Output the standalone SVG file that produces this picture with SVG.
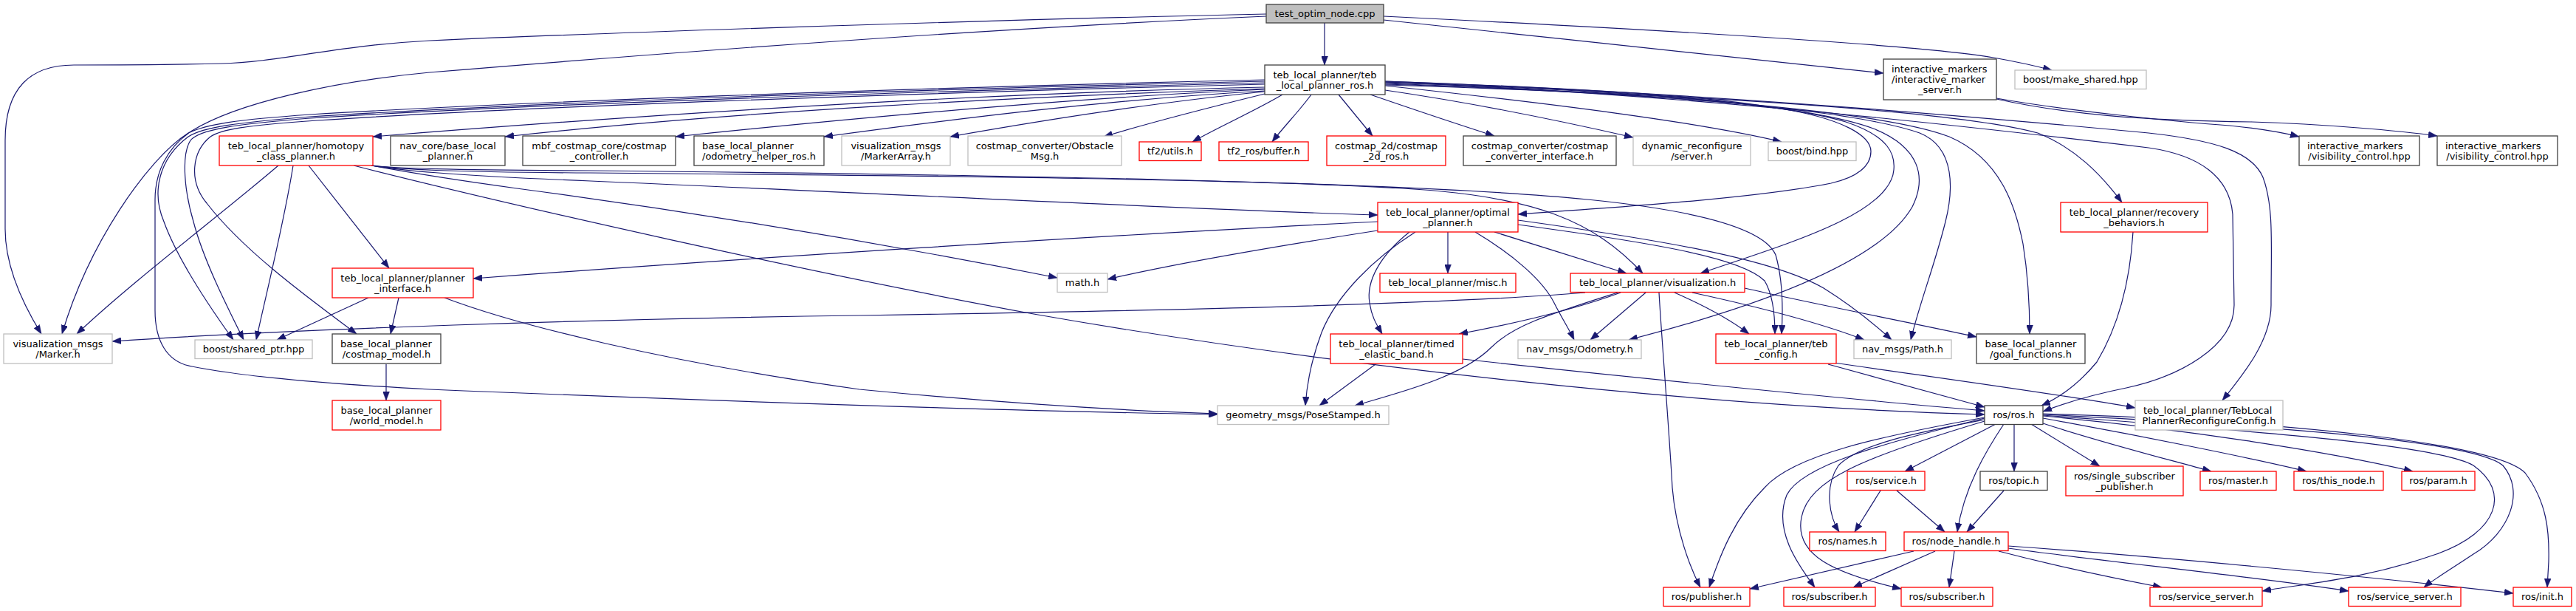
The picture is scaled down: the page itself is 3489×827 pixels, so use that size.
<svg xmlns="http://www.w3.org/2000/svg" width="3489" height="827" viewBox="0 0 3489 827">
<style>
.e{fill:none;stroke:#191970;stroke-width:1.2;marker-end:url(#ah)}
rect{fill:#fff;stroke-width:1.3}
.nb rect{stroke:#404040}
.nr rect{stroke:#ff0000}
.ng rect{stroke:#bfbfbf}
.root rect{fill:#bfbfbf;stroke:#404040}
text{font-family:"DejaVu Sans","Liberation Sans",sans-serif;font-size:13px;fill:#000;text-anchor:middle}
text.l{text-anchor:start}
</style>
<defs>
<marker id="ah" viewBox="0 0 12 9" refX="12" refY="4.5" markerWidth="12" markerHeight="9" markerUnits="userSpaceOnUse" orient="auto">
<path d="M0,0 L12,4.5 L0,9 z" fill="#191970" stroke="#191970" stroke-width="0.5"/>
</marker>
</defs>
<rect x="0" y="0" width="3489" height="827" style="fill:#fff;stroke:none"/>
<g id="edges">
<path class="e" d="M1794,31 L1794,88"/>
<path class="e" d="M1715,19 C1300,28 800,45 582,55 C450,62 380,84 300,86 C220,88 150,88 100,88 C40,88 7,120 7,190 L7,310 C7,360 30,410 56,452"/>
<path class="e" d="M1715,22 C1300,40 800,80 582,98 C450,110 320,140 260,177 C225,200 210,235 210,270 L210,420 C210,460 225,490 260,496 C330,510 450,520 582,527 C900,540 1300,555 1649,561"/>
<path class="e" d="M1874,27 C2100,50 2400,85 2551,99"/>
<path class="e" d="M1874,22 C2200,38 2600,60 2700,78 C2740,85 2760,90 2779,95"/>
<path class="e" d="M1713,108 C1200,120 700,138 420,155 C320,162 280,168 255,180 C200,215 120,330 84,452"/>
<path class="e" d="M1713,110 C1200,122 700,140 420,158 C320,166 275,172 255,185 C215,215 205,260 222,300 C240,350 280,410 316,460"/>
<path class="e" d="M1713,112 C1200,125 700,142 420,160 C320,168 270,175 258,190 C245,210 250,260 262,300 C275,350 305,410 330,460"/>
<path class="e" d="M1713,114 C1200,127 700,145 430,163 C330,170 300,175 285,185 C260,205 255,245 280,275 C330,340 420,405 483,452"/>
<path class="e" d="M1713,118 C1400,125 1000,145 505,185"/>
<path class="e" d="M1713,120 C1400,130 1000,150 684,185"/>
<path class="e" d="M1713,121 C1500,130 1200,155 915,185"/>
<path class="e" d="M1713,123 C1500,135 1300,160 1116,185"/>
<path class="e" d="M1713,124 C1550,140 1400,165 1287,185"/>
<path class="e" d="M1713,127 C1640,145 1560,165 1495,185"/>
<path class="e" d="M1737,128 C1700,150 1650,172 1615,192"/>
<path class="e" d="M1776,128 C1760,150 1740,170 1723,192"/>
<path class="e" d="M1813,128 L1859,184"/>
<path class="e" d="M1856,128 C1920,150 1980,170 2024,184"/>
<path class="e" d="M1876,122 C2000,140 2120,165 2212,186"/>
<path class="e" d="M1876,116 C2100,140 2300,165 2413,192"/>
<path class="e" d="M1876,110 C2100,118 2300,128 2400,145 C2500,160 2534,185 2534,205 C2534,225 2515,240 2480,248 C2380,268 2200,280 2056,290"/>
<path class="e" d="M1876,111 C2150,120 2400,135 2500,165 C2560,185 2567,210 2565,230 C2560,290 2420,330 2303,370"/>
<path class="e" d="M1876,112 C2200,122 2450,140 2540,175 C2600,200 2610,240 2590,280 C2550,350 2400,410 2206,460"/>
<path class="e" d="M1876,113 C2200,124 2500,145 2600,180 C2650,200 2645,260 2635,300 C2620,360 2600,410 2588,460"/>
<path class="e" d="M1876,114 C2250,126 2550,150 2640,185 C2710,215 2730,280 2740,330 C2748,380 2749,420 2749,452"/>
<path class="e" d="M1876,115 C2300,128 2650,150 2760,180 C2810,200 2845,235 2874,274"/>
<path class="e" d="M1876,110 C2300,125 2700,160 2910,180 C3000,190 3050,205 3065,240 C3080,280 3076,330 3076,413 C3076,460 3040,505 3010,542"/>
<path class="e" d="M1876,111 C2300,128 2700,175 2910,200 C2980,210 3020,240 3024,290 L3026,413 C3026,470 2950,510 2880,525 C2830,535 2790,548 2767,557"/>
<path class="e" d="M2704,133 C2800,150 2950,165 3020,170 C3060,174 3090,179 3114,185"/>
<path class="e" d="M2704,134 C2800,155 2900,163 3050,165 C3150,168 3250,177 3301,184"/>
<path class="e" d="M377,224 C300,290 180,380 104,452"/>
<path class="e" d="M397,224 C385,300 360,400 347,460"/>
<path class="e" d="M418,224 L527,363"/>
<path class="e" d="M479,224 C700,280 1100,370 1400,425 C1800,495 2300,550 2688,561"/>
<path class="e" d="M503,224 C540,230 600,237 800,245 C1200,262 1600,283 1866,291"/>
<path class="e" d="M503,224 C540,231 590,240 700,255 C1000,295 1250,340 1432,376"/>
<path class="e" d="M503,224 C540,229 600,233 800,234 C1300,238 1700,243 1900,255 C2080,265 2160,300 2225,370"/>
<path class="e" d="M503,224 C540,228 600,230 800,231 C1300,236 1900,245 2150,270 C2300,285 2390,310 2405,345 C2415,380 2415,420 2413,452"/>
<path class="e" d="M1866,300 C1500,318 1000,350 641,377"/>
<path class="e" d="M1866,312 C1750,330 1600,355 1500,378"/>
<path class="e" d="M1961,314 L1961,370"/>
<path class="e" d="M2024,314 L2203,370"/>
<path class="e" d="M1998,314 C2050,345 2090,380 2105,410 C2115,430 2125,445 2132,460"/>
<path class="e" d="M1909,314 C1870,345 1850,380 1855,410 C1858,430 1865,440 1872,452"/>
<path class="e" d="M1917,314 C1860,350 1810,400 1790,450 C1775,490 1770,520 1768,549"/>
<path class="e" d="M2056,298 C2250,325 2400,350 2470,390 C2510,415 2540,440 2562,460"/>
<path class="e" d="M2056,304 C2250,330 2360,350 2390,380 C2402,400 2404,430 2404,452"/>
<path class="e" d="M2147,396 C1950,412 1600,420 1164,427 C800,432 400,445 152,462"/>
<path class="e" d="M2195,396 C2130,420 2040,440 1976,452"/>
<path class="e" d="M2191,396 C2100,425 2050,440 2020,470 C1980,510 1900,530 1835,549"/>
<path class="e" d="M2229,396 L2154,460"/>
<path class="e" d="M2247,396 C2250,450 2262,600 2265,660 C2270,720 2290,770 2303,795"/>
<path class="e" d="M2268,396 C2300,410 2340,430 2369,452"/>
<path class="e" d="M2292,396 C2380,415 2460,435 2525,460"/>
<path class="e" d="M2363,390 C2450,410 2580,435 2677,456"/>
<path class="e" d="M1863,493 L1787,549"/>
<path class="e" d="M1981,486 C2200,510 2500,540 2688,556"/>
<path class="e" d="M2476,493 L2688,551"/>
<path class="e" d="M2484,491 C2650,515 2800,535 2892,552"/>
<path class="e" d="M2889,314 C2885,380 2870,440 2840,490 C2815,520 2790,538 2765,549"/>
<path class="e" d="M499,403 L375,460"/>
<path class="e" d="M540,403 L529,452"/>
<path class="e" d="M602,403 C700,440 900,490 1164,527 C1350,545 1500,555 1649,560"/>
<path class="e" d="M523,493 L523,542"/>
<path class="e" d="M2703,574 L2580,638"/>
<path class="e" d="M2714,574 C2690,610 2660,660 2651,720"/>
<path class="e" d="M2728,574 L2728,638"/>
<path class="e" d="M2751,574 L2844,631"/>
<path class="e" d="M2767,573 C2850,600 2930,620 2995,638"/>
<path class="e" d="M2767,566 C2900,590 3050,620 3124,638"/>
<path class="e" d="M2767,563 C2950,580 3150,610 3268,638"/>
<path class="e" d="M2767,562 C3000,580 3300,600 3350,630 C3400,665 3385,720 3300,750 C3200,785 3120,790 3064,800"/>
<path class="e" d="M2767,561 C3050,575 3350,595 3390,630 C3420,665 3400,720 3350,750 C3320,770 3295,785 3283,795"/>
<path class="e" d="M2767,560 C3100,570 3380,600 3420,640 C3450,680 3453,720 3452,760 L3450,795"/>
<path class="e" d="M2688,568 C2600,585 2520,600 2490,630 C2470,660 2478,700 2491,720"/>
<path class="e" d="M2688,566 C2550,600 2440,630 2420,670 C2400,720 2440,770 2458,795"/>
<path class="e" d="M2688,570 C2520,620 2450,650 2440,700 C2430,750 2480,775 2575,797"/>
<path class="e" d="M2688,565 C2550,590 2430,615 2390,660 C2350,700 2330,750 2315,795"/>
<path class="e" d="M2592,746 L2370,797"/>
<path class="e" d="M2621,746 L2510,795"/>
<path class="e" d="M2647,746 L2640,795"/>
<path class="e" d="M2707,746 C2780,765 2860,782 2928,795"/>
<path class="e" d="M2720,742 C2850,760 3050,780 3181,800"/>
<path class="e" d="M2720,739 C2950,755 3250,785 3404,803"/>
<path class="e" d="M2547,664 L2512,720"/>
<path class="e" d="M2569,664 L2634,720"/>
<path class="e" d="M2714,664 L2664,720"/>
</g>
<g id="n1" class="root"><rect x="1715" y="6" width="159" height="25"/><text x="1794.5" y="23">test_optim_node.cpp</text></g>
<g id="n2" class="nb"><rect x="1713" y="88" width="163" height="40"/><text x="1794.5" y="105.6">teb_local_planner/teb</text><text x="1794.5" y="119.6">_local_planner_ros.h</text></g>
<g id="n3" class="nr"><rect x="297" y="184" width="208" height="40"/><text x="401" y="201.6">teb_local_planner/homotopy</text><text x="401" y="215.6">_class_planner.h</text></g>
<g id="n4" class="nb"><rect x="529" y="184" width="155" height="40"/><text x="606.5" y="201.6">nav_core/base_local</text><text x="606.5" y="215.6">_planner.h</text></g>
<g id="n5" class="nb"><rect x="708" y="184" width="207" height="40"/><text x="811.5" y="201.6">mbf_costmap_core/costmap</text><text x="811.5" y="215.6">_controller.h</text></g>
<g id="n6" class="nb"><rect x="940" y="184" width="176" height="40"/><text class="l" x="951" y="201.6">base_local_planner</text><text x="1028" y="215.6">/odometry_helper_ros.h</text></g>
<g id="n7" class="ng"><rect x="1140" y="184" width="147" height="40"/><text x="1213.5" y="201.6">visualization_msgs</text><text x="1213.5" y="215.6">/MarkerArray.h</text></g>
<g id="n8" class="ng"><rect x="1311" y="184" width="208" height="40"/><text x="1415" y="201.6">costmap_converter/Obstacle</text><text x="1415" y="215.6">Msg.h</text></g>
<g id="n9" class="nr"><rect x="1543" y="192" width="84" height="25.5"/><text x="1585" y="209.3">tf2/utils.h</text></g>
<g id="n10" class="nr"><rect x="1651" y="192" width="121" height="25.5"/><text x="1711.5" y="209.3">tf2_ros/buffer.h</text></g>
<g id="n11" class="nr"><rect x="1797" y="184" width="161" height="40"/><text x="1877.5" y="201.6">costmap_2d/costmap</text><text x="1877.5" y="215.6">_2d_ros.h</text></g>
<g id="n12" class="nb"><rect x="1982" y="184" width="207" height="40"/><text x="2085.5" y="201.6">costmap_converter/costmap</text><text x="2085.5" y="215.6">_converter_interface.h</text></g>
<g id="n13" class="ng"><rect x="2212" y="184" width="159" height="40"/><text x="2291.5" y="201.6">dynamic_reconfigure</text><text x="2291.5" y="215.6">/server.h</text></g>
<g id="n14" class="ng"><rect x="2395" y="192" width="119" height="25.5"/><text x="2454.5" y="209.3">boost/bind.hpp</text></g>
<g id="n15" class="nb"><rect x="2551" y="80" width="153" height="55"/><text class="l" x="2562" y="98.1">interactive_markers</text><text class="l" x="2562" y="112.1">/interactive_marker</text><text x="2627.5" y="126.1">_server.h</text></g>
<g id="n16" class="ng"><rect x="2729" y="95" width="178" height="25.5"/><text x="2818" y="112.3">boost/make_shared.hpp</text></g>
<g id="n17" class="nb"><rect x="3114" y="184" width="163" height="40"/><text class="l" x="3125" y="201.6">interactive_markers</text><text x="3195.5" y="215.6">/visibility_control.hpp</text></g>
<g id="n18" class="nb"><rect x="3301" y="184" width="163" height="40"/><text class="l" x="3312" y="201.6">interactive_markers</text><text x="3382.5" y="215.6">/visibility_control.hpp</text></g>
<g id="n19" class="nr"><rect x="2791" y="274" width="199" height="40"/><text x="2890.5" y="291.6">teb_local_planner/recovery</text><text x="2890.5" y="305.6">_behaviors.h</text></g>
<g id="n20" class="nr"><rect x="1866" y="274" width="190" height="40"/><text x="1961" y="291.6">teb_local_planner/optimal</text><text x="1961" y="305.6">_planner.h</text></g>
<g id="n21" class="nr"><rect x="450" y="363" width="191" height="40"/><text x="545.5" y="380.6">teb_local_planner/planner</text><text x="545.5" y="394.6">_interface.h</text></g>
<g id="n22" class="ng"><rect x="1432" y="370" width="68" height="25.5"/><text x="1466" y="387.3">math.h</text></g>
<g id="n23" class="nr"><rect x="1869" y="370" width="184" height="25.5"/><text x="1961" y="387.3">teb_local_planner/misc.h</text></g>
<g id="n24" class="nr"><rect x="2127" y="370" width="236" height="25.5"/><text x="2245" y="387.3">teb_local_planner/visualization.h</text></g>
<g id="n25" class="ng"><rect x="5" y="452" width="147" height="40"/><text x="78.5" y="469.6">visualization_msgs</text><text x="78.5" y="483.6">/Marker.h</text></g>
<g id="n26" class="ng"><rect x="264" y="460" width="159" height="25.5"/><text x="343.5" y="477.3">boost/shared_ptr.hpp</text></g>
<g id="n27" class="nb"><rect x="450" y="452" width="147" height="40"/><text class="l" x="461" y="469.6">base_local_planner</text><text x="523.5" y="483.6">/costmap_model.h</text></g>
<g id="n28" class="nr"><rect x="450" y="542" width="147" height="40"/><text x="523.5" y="559.6">base_local_planner</text><text x="523.5" y="573.6">/world_model.h</text></g>
<g id="n29" class="nr"><rect x="1802" y="452" width="179" height="40"/><text x="1891.5" y="469.6">teb_local_planner/timed</text><text x="1891.5" y="483.6">_elastic_band.h</text></g>
<g id="n30" class="ng"><rect x="2056" y="460" width="167" height="25.5"/><text x="2139.5" y="477.3">nav_msgs/Odometry.h</text></g>
<g id="n31" class="nr"><rect x="2324" y="452" width="163" height="40"/><text x="2405.5" y="469.6">teb_local_planner/teb</text><text x="2405.5" y="483.6">_config.h</text></g>
<g id="n32" class="ng"><rect x="2511" y="460" width="132" height="25.5"/><text x="2577" y="477.3">nav_msgs/Path.h</text></g>
<g id="n33" class="nb"><rect x="2677" y="452" width="147" height="40"/><text x="2750.5" y="469.6">base_local_planner</text><text x="2750.5" y="483.6">/goal_functions.h</text></g>
<g id="n34" class="ng"><rect x="1649" y="549" width="232" height="25.5"/><text x="1765" y="566.3">geometry_msgs/PoseStamped.h</text></g>
<g id="n35" class="nb"><rect x="2688" y="549" width="79" height="25.5"/><text x="2727.5" y="566.3">ros/ros.h</text></g>
<g id="n36" class="ng"><rect x="2892" y="542" width="200" height="40"/><text class="l" x="2903" y="559.6">teb_local_planner/TebLocal</text><text x="2992" y="573.6">PlannerReconfigureConfig.h</text></g>
<g id="n37" class="nr"><rect x="2502" y="638" width="105" height="25.5"/><text x="2554.5" y="655.3">ros/service.h</text></g>
<g id="n38" class="nb"><rect x="2682" y="638" width="91" height="25.5"/><text x="2727.5" y="655.3">ros/topic.h</text></g>
<g id="n39" class="nr"><rect x="2798" y="631" width="159" height="40"/><text x="2877.5" y="648.6">ros/single_subscriber</text><text x="2877.5" y="662.6">_publisher.h</text></g>
<g id="n40" class="nr"><rect x="2980" y="638" width="103" height="25.5"/><text x="3031.5" y="655.3">ros/master.h</text></g>
<g id="n41" class="nr"><rect x="3107" y="638" width="121" height="25.5"/><text x="3167.5" y="655.3">ros/this_node.h</text></g>
<g id="n42" class="nr"><rect x="3253" y="638" width="99" height="25.5"/><text x="3302.5" y="655.3">ros/param.h</text></g>
<g id="n43" class="nr"><rect x="2451" y="720" width="103" height="25.5"/><text x="2502.5" y="737.3">ros/names.h</text></g>
<g id="n44" class="nr"><rect x="2579" y="720" width="141" height="25.5"/><text x="2649.5" y="737.3">ros/node_handle.h</text></g>
<g id="n45" class="nr"><rect x="2253" y="795" width="117" height="25.5"/><text x="2311.5" y="812.3">ros/publisher.h</text></g>
<g id="n46" class="nr"><rect x="2416" y="795" width="124" height="25.5"/><text x="2478" y="812.3">ros/subscriber.h</text></g>
<g id="n47" class="nr"><rect x="2575" y="795" width="124" height="25.5"/><text x="2637" y="812.3">ros/subscriber.h</text></g>
<g id="n48" class="nr"><rect x="2912" y="795" width="152" height="25.5"/><text x="2988" y="812.3">ros/service_server.h</text></g>
<g id="n49" class="nr"><rect x="3181" y="795" width="152" height="25.5"/><text x="3257" y="812.3">ros/service_server.h</text></g>
<g id="n50" class="nr"><rect x="3404" y="795" width="79" height="25.5"/><text x="3443.5" y="812.3">ros/init.h</text></g>
</svg>
